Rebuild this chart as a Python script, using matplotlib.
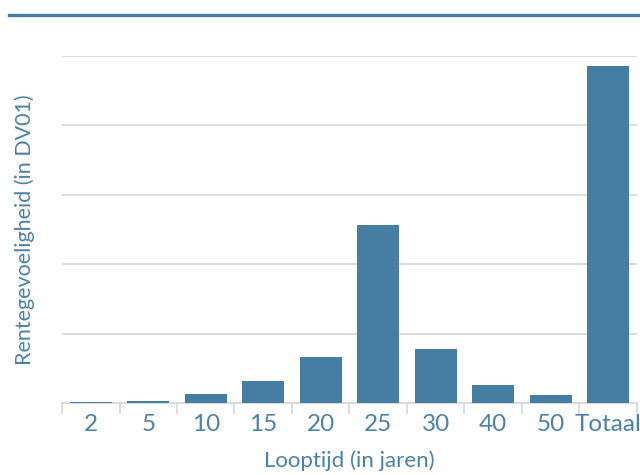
import matplotlib.pyplot as plt
from matplotlib.lines import Line2D

# Rentegevoeligheid per looptijd-bucket
looptijden = ['2', '5', '10', '15', '20', '25', '30', '40', '50', 'Totaal']
dv01 = [0.015, 0.03, 0.13, 0.32, 0.66, 2.56, 0.78, 0.26, 0.12, 4.86]

blauw = '#467ea3'
tekst_kleur = '#4b82aa'
grid_kleur = '#d9d9d9'

plt.rcParams['font.family'] = ['Lato', 'DejaVu Sans']

fig = plt.figure(figsize=(6.4, 4.75), dpi=100)
ax = fig.add_axes([0.097, 0.1516, 0.898, 0.7305])

x = list(range(len(looptijden)))
ax.bar(x, dv01, width=0.73, color=blauw, zorder=3)

ax.set_xlim(-0.5, len(looptijden) - 0.5)
ax.set_ylim(0, 5)
ax.set_yticks([0, 1, 2, 3, 4, 5])
ax.set_yticklabels([])
ax.tick_params(axis='y', length=0)
ax.grid(axis='y', color=grid_kleur, linewidth=1.3, zorder=0)

# labels in het midden, tickstreepjes op de grenzen
ax.set_xticks(x)
ax.set_xticklabels(looptijden, fontsize=17.5, color=tekst_kleur)
ax.tick_params(axis='x', which='major', length=0, pad=8)
ax.set_xticks([i - 0.5 for i in range(len(looptijden) + 1)], minor=True)
ax.tick_params(axis='x', which='minor', length=8, width=1.3, color=grid_kleur)

for kant in ['top', 'right', 'left']:
    ax.spines[kant].set_visible(False)
ax.spines['bottom'].set_color(grid_kleur)
ax.spines['bottom'].set_linewidth(1.3)

ax.set_ylabel('Rentegevoeligheid (in DV01)', fontsize=15.5, color=tekst_kleur, labelpad=16)
ax.set_xlabel('Looptijd (in jaren)', fontsize=16, color=tekst_kleur, labelpad=11)

# lijn boven de grafiek
fig.add_artist(Line2D([0.014, 0.998], [0.969, 0.969], transform=fig.transFigure,
                      color=blauw, linewidth=2.4))

fig.savefig('out.png', dpi=100)
